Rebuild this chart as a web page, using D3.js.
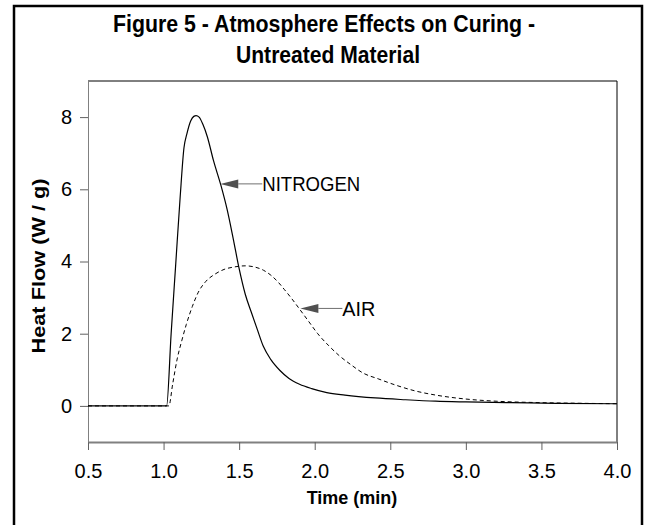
<!DOCTYPE html>
<html>
<head>
<meta charset="utf-8">
<script src="https://cdn.jsdelivr.net/npm/d3@7"></script>
<style>
  body { margin: 0; background: #fff; }
  text { font-family: "Liberation Sans", Arial, sans-serif; }
</style>
</head>
<body>
<div id="chart"></div>
<script>
// DATA
const nitrogenTime = [0.5, 0.8, 1.0, 1.02, 1.05, 1.08, 1.11, 1.135, 1.155, 1.18, 1.20, 1.215, 1.235, 1.26, 1.29, 1.33, 1.38, 1.42, 1.46, 1.50, 1.54, 1.58, 1.62, 1.66, 1.71, 1.77, 1.83, 1.90, 1.98, 2.08, 2.2, 2.4, 2.6, 2.8, 3.0, 3.3, 3.6, 4.0];
const nitrogenFlow = [0, 0, 0, 0, 2.0, 3.9, 5.8, 7.15, 7.55, 7.9, 8.02, 8.04, 8.0, 7.8, 7.45, 6.8, 6.1, 5.45, 4.65, 3.8, 3.1, 2.6, 2.12, 1.65, 1.28, 0.98, 0.76, 0.6, 0.48, 0.37, 0.3, 0.22, 0.17, 0.13, 0.11, 0.09, 0.07, 0.06];

const airTime = [0.5, 0.8, 1.0, 1.035, 1.06, 1.09, 1.12, 1.15, 1.19, 1.23, 1.28, 1.34, 1.40, 1.47, 1.54, 1.60, 1.66, 1.71, 1.76, 1.80, 1.85, 1.90, 1.96, 2.02, 2.09, 2.16, 2.24, 2.32, 2.42, 2.54, 2.66, 2.8, 3.0, 3.2, 3.5, 3.8, 4.0];
const airFlow = [0, 0, 0, 0, 0.6, 1.3, 1.8, 2.25, 2.75, 3.15, 3.45, 3.65, 3.78, 3.85, 3.88, 3.85, 3.76, 3.62, 3.42, 3.22, 2.96, 2.68, 2.34, 2.0, 1.68, 1.4, 1.14, 0.91, 0.75, 0.57, 0.42, 0.3, 0.19, 0.13, 0.09, 0.07, 0.06];

const xTicks = [0.5, 1.0, 1.5, 2.0, 2.5, 3.0, 3.5, 4.0];
const yTicks = [0, 2, 4, 6, 8];

// LABELS WITH ARROW TIP (TIME, FLOW)
const labelNames = ['NITROGEN', 'AIR'];
const labelTips = [[1.375, 6.15], [1.905, 2.70]];

// SIZE
width = 646;
height = 525;

svg = d3.select('#chart')
  .append('svg')
  .attr('width', width)
  .attr('height', height);

// OUTER BOX
svg.append('rect')
  .attr('x', 14).attr('y', 6)
  .attr('width', 628).attr('height', 540)
  .attr('fill', 'none')
  .attr('stroke', '#000')
  .attr('stroke-width', 2.5);

// TITLE
svg.append('text')
  .attr('x', 324).attr('y', 32)
  .attr('text-anchor', 'middle')
  .style('font-weight', 'bold')
  .style('font-size', '23px')
  .attr('textLength', 422)
  .attr('lengthAdjust', 'spacingAndGlyphs')
  .text('Figure 5 - Atmosphere Effects on Curing -');
svg.append('text')
  .attr('x', 328).attr('y', 63)
  .attr('text-anchor', 'middle')
  .style('font-weight', 'bold')
  .style('font-size', '23px')
  .attr('textLength', 184)
  .attr('lengthAdjust', 'spacingAndGlyphs')
  .text('Untreated Material');

// SCALES
x = d3.scaleLinear().domain([0.5, 4]).range([88, 617]);
y = d3.scaleLinear().domain([-1, 9]).range([442, 81]);

// FRAME TOP AND RIGHT
svg.append('path')
  .attr('d', `M${x(0.5)},${y(9)}H${x(4)}V${y(-1)}`)
  .attr('fill', 'none')
  .attr('stroke', '#000');

// X AXIS
xAxis = svg.append('g')
  .attr('transform', `translate(0,${y(-1)})`)
  .call(d3.axisBottom(x).tickValues(xTicks).tickFormat(d3.format('.1f')).tickSize(8).tickSizeOuter(0).tickPadding(14));
xAxis.select('.domain').attr('stroke', '#808080').attr('stroke-width', 2);

// Y AXIS
yAxis = svg.append('g')
  .attr('transform', `translate(${x(0.5)},0)`)
  .call(d3.axisLeft(y).tickValues(yTicks).tickSize(8).tickSizeOuter(0).tickPadding(8));
yAxis.select('.domain').attr('stroke', '#808080');

svg.selectAll('.tick line').attr('stroke', '#606060');
svg.selectAll('.tick text')
  .style('font-family', '"Liberation Sans", Arial, sans-serif')
  .style('font-size', '20px')
  .attr('fill', '#000');

// AXIS TITLES
svg.append('text')
  .attr('x', 352).attr('y', 504)
  .attr('text-anchor', 'middle')
  .style('font-weight', 'bold')
  .style('font-size', '18px')
  .text('Time (min)');

svg.append('text')
  .attr('transform', 'translate(45,266)rotate(-90)')
  .attr('text-anchor', 'middle')
  .style('font-weight', 'bold')
  .style('font-size', '18px')
  .attr('textLength', 175)
  .attr('lengthAdjust', 'spacingAndGlyphs')
  .text('Heat Flow (W / g)');

// LINES
line = d3.line()
  .x(d => x(d[0]))
  .y(d => y(d[1]))
  .curve(d3.curveMonotoneX);

svg.append('path')
  .datum(nitrogenTime.map((t, i) => [t, nitrogenFlow[i]]))
  .attr('d', line)
  .attr('fill', 'none')
  .attr('stroke', '#000')
  .attr('stroke-width', 1.2);

svg.append('path')
  .datum(airTime.map((t, i) => [t, airFlow[i]]))
  .attr('d', line)
  .attr('fill', 'none')
  .attr('stroke', '#000')
  .attr('stroke-width', 1)
  .attr('stroke-dasharray', '4,3');

// ARROW LABELS
labelNames.forEach((name, i) => {
  tx = x(labelTips[i][0]);
  ty = y(labelTips[i][1]);
  g = svg.append('g');
  g.append('line')
    .attr('x1', tx + 18).attr('y1', ty)
    .attr('x2', tx + 42).attr('y2', ty)
    .attr('stroke', '#707070');
  g.append('path')
    .attr('d', `M${tx},${ty}L${tx + 18},${ty - 4.5}L${tx + 18},${ty + 4.5}Z`)
    .attr('fill', '#505050');
  g.append('text')
    .attr('x', tx + 42).attr('y', ty + 7.5)
    .style('font-size', '20px')
    .attr('textLength', name.length > 3 ? 98 : 33)
    .attr('lengthAdjust', 'spacingAndGlyphs')
    .text(name);
});
</script>
</body>
</html>
